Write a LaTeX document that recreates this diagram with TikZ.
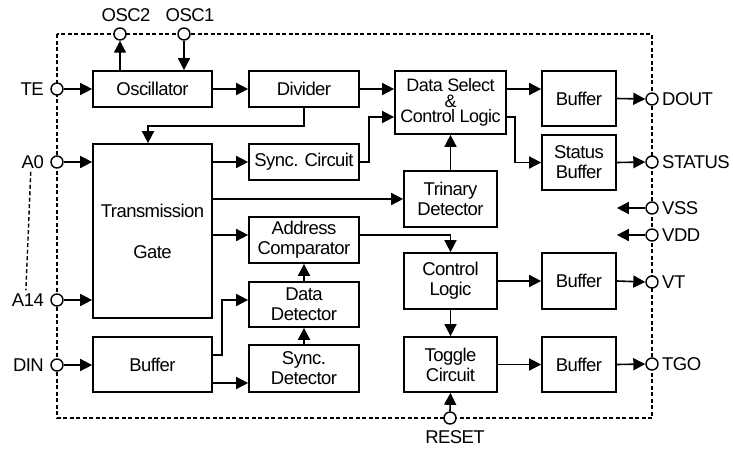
\documentclass[tikz,border=0pt]{standalone}
\usepackage{fontspec}
\setmainfont{Liberation Sans}[LetterSpace=-3]
\usetikzlibrary{arrows.meta}
\begin{document}
\begin{tikzpicture}[x=1pt,y=-1pt,
  every node/.style={font=\fontsize{18.5}{20}\selectfont},
  blk/.style={draw, line width=1.7pt, align=center, inner sep=0pt},
  pin/.style={circle, draw, fill=white, line width=1.4pt, minimum size=12pt, inner sep=0pt},
  lbl/.style={inner sep=0pt},
  arr/.style={line width=1.6pt, -{Triangle[length=12pt,width=12pt]}},
  border/.style={line width=1.4pt, dash pattern=on 4pt off 2.5pt}]
\useasboundingbox (0,0) rectangle (733,448);
% border
\draw[border] (57,34) rectangle (652,418);
% blocks
\node[blk, minimum width=119pt, minimum height=36pt] (osc) at (152.5,89) {Oscillator};
\node[blk, minimum width=110pt, minimum height=36pt] (div) at (304,89) {Divider};
\node[blk, minimum width=111pt, minimum height=63pt, font=\fontsize{18}{15.5}\selectfont] (ds) at (450.5,102.5) {Data Select\\\&\\Control Logic};
\node[blk, minimum width=119pt, minimum height=174pt] (tg) at (152.5,231) {Transmission\\[21pt]Gate};
\node[blk, minimum width=110pt, minimum height=36pt] (sync) at (304,162) {Sync. Circuit};
\node[blk, minimum width=110pt, minimum height=46pt] (addr) at (304,240) {Address\\Comparator};
\node[blk, minimum width=110pt, minimum height=45pt] (ddet) at (304,304.5) {Data\\Detector};
\node[blk, minimum width=110pt, minimum height=47pt] (sdet) at (304,368.5) {Sync.\\Detector};
\node[blk, minimum width=119pt, minimum height=55pt] (buf) at (152.5,364.5) {Buffer};
\node[blk, minimum width=93pt, minimum height=56pt] (tri) at (450.5,199) {Trinary\\Detector};
\node[blk, minimum width=93pt, minimum height=56pt] (ctl) at (450.5,281) {Control\\Logic};
\node[blk, minimum width=93pt, minimum height=55pt] (tog) at (450.5,364.5) {Toggle\\Circuit};
\node[blk, minimum width=74pt, minimum height=55pt] (b1) at (579,98.5) {Buffer};
\node[blk, minimum width=74pt, minimum height=55pt] (sb) at (579,162.5) {Status\\Buffer};
\node[blk, minimum width=74pt, minimum height=56pt] (b2) at (579,281) {Buffer};
\node[blk, minimum width=74pt, minimum height=55pt] (b3) at (579,364.5) {Buffer};
% pins
\node[pin] (osc2) at (120,34) {};
\node[pin] (osc1) at (184,34) {};
\node[pin] (te) at (57,89) {};
\node[pin] (a0) at (57,162) {};
\node[pin] (a14) at (57,300) {};
\node[pin] (din) at (57,365) {};
\node[pin] (dout) at (652,99) {};
\node[pin] (status) at (652,162) {};
\node[pin] (vss) at (652,208) {};
\node[pin] (vdd) at (652,235) {};
\node[pin] (vt) at (652,282) {};
\node[pin] (tgo) at (652,364) {};
\node[pin] (reset) at (450,418) {};
% labels
\node[lbl] (losc2) at (126,15) {OSC2};
\node[lbl] (losc1) at (190,15) {OSC1};
\node[lbl, anchor=east] (lte) at (44,89) {TE};
\node[lbl, anchor=east] (la0) at (44,162) {A0};
\node[lbl, anchor=east] (la14) at (44,300) {A14};
\node[lbl, anchor=east] (ldin) at (44,365) {DIN};
\node[lbl, anchor=west] (ldout) at (662,99) {DOUT};
\node[lbl, anchor=west] (lstatus) at (662,162) {STATUS};
\node[lbl, anchor=west] (lvss) at (662,208) {VSS};
\node[lbl, anchor=west] (lvdd) at (662,235) {VDD};
\node[lbl, anchor=west] (lvt) at (662,282) {VT};
\node[lbl, anchor=west] (ltgo) at (662,364) {TGO};
\node[lbl] (lreset) at (455,437.5) {RESET};
\draw[border] ([xshift=-2pt,yshift=-3pt]la0.south) -- ([xshift=-2pt,yshift=3pt]la14.north);
% connectors
\draw[arr] (osc.north -| osc2) -- (osc2.south);
\draw[arr] (osc1.south) -- (osc1 |- osc.north);
\draw[arr] (te.east) -- (osc.west);
\draw[arr] (osc.east) -- (div.west);
\draw[arr] (div.east) -- (div.east -| ds.west);
\draw[arr] (div.south) -- ++(0,18) -| ([xshift=-4.5pt]tg.north);
\draw[arr] (a0.east) -- (a0.east -| tg.west);
\draw[arr] (a14.east) -- (a14.east -| tg.west);
\draw[arr] (tg.east |- sync.west) -- (sync.west);
\draw[arr] (sync.east) -- ++(9,0) |- (ds.west |- 0,117);
\draw[arr] (tg.east |- tri.west) -- (tri.west);
\draw[arr] (tri.north) -- (tri.north |- ds.south);
\draw[arr] (tg.east |- 0,235) -- (addr.west |- 0,235);
\draw[arr] (addr.east |- 0,235) -| (ctl.north);
\draw[arr] (ddet.north) -- (addr.south);
\draw[arr] (sdet.north) -- (ddet.south);
\draw[arr] (din.east) -- (din.east -| buf.west);
\draw[arr] (buf.east |- 0,355) -- ++(9,0) |- (ddet.west |- 0,300);
\draw[arr] (buf.east |- 0,383) -- (sdet.west |- 0,383);
\draw[arr] (ds.east |- 0,89) -- (b1.west |- 0,89);
\draw[arr] (ds.east |- 0,117) -- ++(8,0) |- (sb.west);
\draw[arr] (b1.east) -- (dout.west);
\draw[arr] (sb.east) -- (status.west);
\draw[arr] (vss.west) -- (b1.east |- vss);
\draw[arr] (vdd.west) -- (b1.east |- vdd);
\draw[arr] (ctl.east) -- (b2.west);
\draw[arr] (b2.east) -- (vt.west);
\draw[arr] (ctl.south) -- (tog.north);
\draw[arr] (tog.east) -- (b3.west);
\draw[arr] (b3.east) -- (tgo.west);
\draw[arr] (reset.north) -- (tog.south);
\end{tikzpicture}
\end{document}
